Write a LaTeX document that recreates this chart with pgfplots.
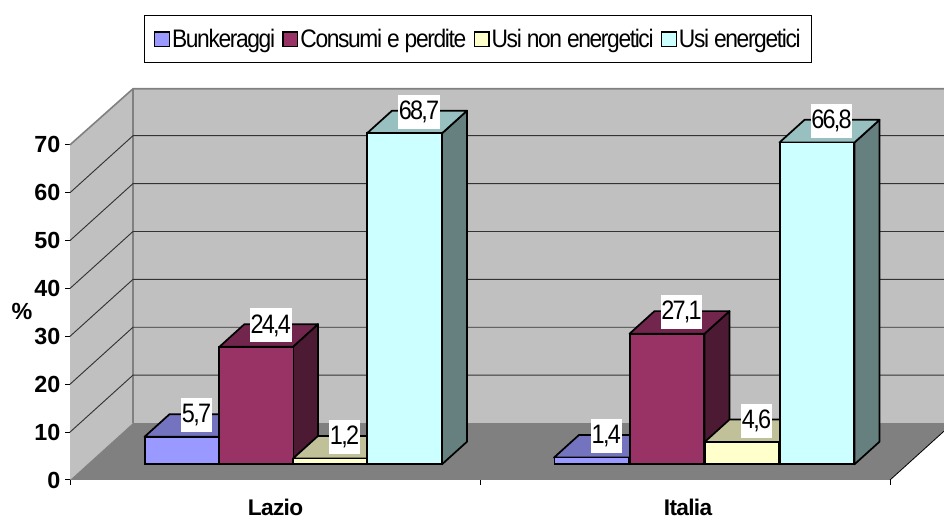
\documentclass[border=0pt]{standalone}
\usepackage{fontspec}
\usepackage{pgfplots}
\pgfplotsset{compat=1.18}
\setmainfont{Liberation Sans}
\newfontfamily\condv[FakeStretch=0.88,LetterSpace=-6.5]{Liberation Sans}
\newfontfamily\condl[FakeStretch=0.9,LetterSpace=-5.4]{Liberation Sans}
\newfontfamily\tightb[LetterSpace=-3]{Liberation Sans}
\definecolor{wall}{HTML}{C0C0C0}
\definecolor{floorc}{HTML}{808080}
\definecolor{sA}{HTML}{9999FF}\definecolor{sAt}{HTML}{7373C0}\definecolor{sAs}{HTML}{4D4D80}
\definecolor{sB}{HTML}{993366}\definecolor{sBt}{HTML}{73264D}\definecolor{sBs}{HTML}{4D1A33}
\definecolor{sC}{HTML}{FFFFCC}\definecolor{sCt}{HTML}{C0C099}\definecolor{sCs}{HTML}{808066}
\definecolor{sD}{HTML}{CCFFFF}\definecolor{sDt}{HTML}{99C0C0}\definecolor{sDs}{HTML}{668080}
\pgfplotsset{
 face/.style={fill=#1,draw=black,line width=1.3pt,line join=round,forget plot},
 frontbar/.style={ybar,bar width=56pt,bar shift=0pt,fill=#1,draw=black,line width=1.3pt,
   legend image code/.code={\draw[fill=#1,draw=black,line width=1pt] (-2.2pt,-5.5pt) rectangle (8.8pt,5.5pt);},
   nodes near coords,point meta=y,
   nodes near coords align={anchor=center},
   every node near coord/.append style={anchor=center,fill=white,text=black,font=\condv\fontsize{20}{20}\selectfont,
     inner xsep=0.5pt,inner ysep=0pt,minimum height=25.5pt,xshift=10.9pt,yshift=16pt,
     /pgf/number format/.cd,fixed,fixed zerofill,precision=1,use comma,assume math mode=true}},
}
\begin{document}
\begin{tikzpicture}
\useasboundingbox (0,0) rectangle (708pt,390pt);
% walls, floor and the value axis: x in px, y in %
\begin{axis}[
 at={(52.5pt,30pt)},anchor=south west,scale only axis,width=615pt,height=251.4pt,
 xmin=70,xmax=890,ymin=0,ymax=70,clip=false,
 axis x line*=bottom,axis y line*=left,
 axis line style={black,line width=0.75pt,-},
 tick align=outside,tickwidth=3.75pt,
 tick style={black,line width=0.75pt},
 ytick={0,10,20,30,40,50,60,70},
 xtick={70,480,890},xticklabels={},
 extra x ticks={275.5,688},extra x tick labels={Lazio,Italia},
 extra x tick style={major tick length=0pt,xticklabel style={yshift=-11pt,font=\tightb\bfseries\fontsize{17}{17}\selectfont}},
 ticklabel style={font=\bfseries\fontsize{17.5}{17.5}\selectfont,text=black},
 /pgf/number format/assume math mode=true,
 ylabel={\%},
 ylabel style={font=\bfseries\fontsize{17.5}{17.5}\selectfont,rotate=-90,anchor=center,at={(axis description cs:-0.0585,0.504)}},
]
\addplot[fill=wall,draw=none] coordinates {(133,11.9)(944,11.9)(944,81.7)(133,81.7)} -- cycle;
\addplot[fill=wall,draw=none] coordinates {(70,0)(133,11.9)(133,81.7)(70,70)} -- cycle;
\addplot[fill=floorc,draw=none] coordinates {(70,0)(890,0)(944,10.2)(944,11.9)(133,11.9)} -- cycle;
\addplot[draw=floorc,line width=1.2pt] coordinates {(70,70)(133,81.7)(944,81.7)};
\addplot[draw=floorc,line width=1.2pt] coordinates {(133,11.9)(133,81.7)};
\addplot[draw=black!80,line width=0.7pt] coordinates {(70,10)(133,21.9)(944,21.9)};
\addplot[draw=black!80,line width=0.7pt] coordinates {(70,20)(133,31.9)(944,31.9)};
\addplot[draw=black!80,line width=0.7pt] coordinates {(70,30)(133,41.9)(944,41.9)};
\addplot[draw=black!80,line width=0.7pt] coordinates {(70,40)(133,51.9)(944,51.9)};
\addplot[draw=black!80,line width=0.7pt] coordinates {(70,50)(133,61.9)(944,61.9)};
\addplot[draw=black!80,line width=0.7pt] coordinates {(70,60)(133,71.9)(944,71.9)};
\addplot[draw=black,line width=0.6pt] coordinates {(890,0)(944,10.2)};
\end{axis}
% the bars: x in px, y in %, base on the floor
\begin{axis}[
 at={(0pt,41.78pt)},anchor=south west,scale only axis,width=708pt,height=289.08pt,
 xmin=0,xmax=944,ymin=0,ymax=80,clip=false,hide axis,
 legend columns=4,
 legend style={at={(axis cs:478,88.17)},anchor=center,draw=black,line width=0.75pt,fill=white,
   font=\condl\fontsize{19}{19}\selectfont,inner xsep=7pt,inner ysep=9pt,
   nodes={inner sep=1pt,anchor=west},
   /tikz/every odd column/.append style={column sep=0.5pt},
   /tikz/every even column/.append style={column sep=4.5pt}},
 legend cell align=left,
]
\addplot[face=sAs] coordinates {(219.5,0)(219.5,5.7)(244.5,10.39)(244.5,4.69)} -- cycle;
\addplot[face=sAt] coordinates {(144.5,5.7)(219.5,5.7)(244.5,10.39)(169.5,10.39)} -- cycle;
\addplot[face=sAs] coordinates {(629.5,0)(629.5,1.4)(654.5,6.09)(654.5,4.69)} -- cycle;
\addplot[face=sAt] coordinates {(554,1.4)(629.5,1.4)(654.5,6.09)(579,6.09)} -- cycle;
\addplot[frontbar=sA] coordinates {(182,5.7)(591.75,1.4)};
\addlegendentry{Bunkeraggi}
\addplot[face=sBs] coordinates {(293,0)(293,24.4)(318,29.09)(318,4.69)} -- cycle;
\addplot[face=sBt] coordinates {(219.5,24.4)(293,24.4)(318,29.09)(244.5,29.09)} -- cycle;
\addplot[face=sBs] coordinates {(704.5,0)(704.5,27.1)(729.5,31.79)(729.5,4.69)} -- cycle;
\addplot[face=sBt] coordinates {(629.5,27.1)(704.5,27.1)(729.5,31.79)(654.5,31.79)} -- cycle;
\addplot[frontbar=sB] coordinates {(256.25,24.4)(667,27.1)};
\addlegendentry{Consumi e perdite}
\addplot[face=sCs] coordinates {(367,0)(367,1.2)(392,5.89)(392,4.69)} -- cycle;
\addplot[face=sCt] coordinates {(293,1.2)(367,1.2)(392,5.89)(318,5.89)} -- cycle;
\addplot[face=sCs] coordinates {(779.5,0)(779.5,4.6)(804.5,9.29)(804.5,4.69)} -- cycle;
\addplot[face=sCt] coordinates {(704.5,4.6)(779.5,4.6)(804.5,9.29)(729.5,9.29)} -- cycle;
\addplot[frontbar=sC] coordinates {(330,1.2)(742,4.6)};
\addlegendentry{Usi non energetici}
\addplot[face=sDs] coordinates {(442,0)(442,68.7)(467,73.39)(467,4.69)} -- cycle;
\addplot[face=sDt] coordinates {(367,68.7)(442,68.7)(467,73.39)(392,73.39)} -- cycle;
\addplot[face=sDs] coordinates {(854.5,0)(854.5,66.8)(879.5,71.49)(879.5,4.69)} -- cycle;
\addplot[face=sDt] coordinates {(779.5,66.8)(854.5,66.8)(879.5,71.49)(804.5,71.49)} -- cycle;
\addplot[frontbar=sD] coordinates {(404.5,68.7)(817,66.8)};
\addlegendentry{Usi energetici}
\end{axis}
\end{tikzpicture}
\end{document}
